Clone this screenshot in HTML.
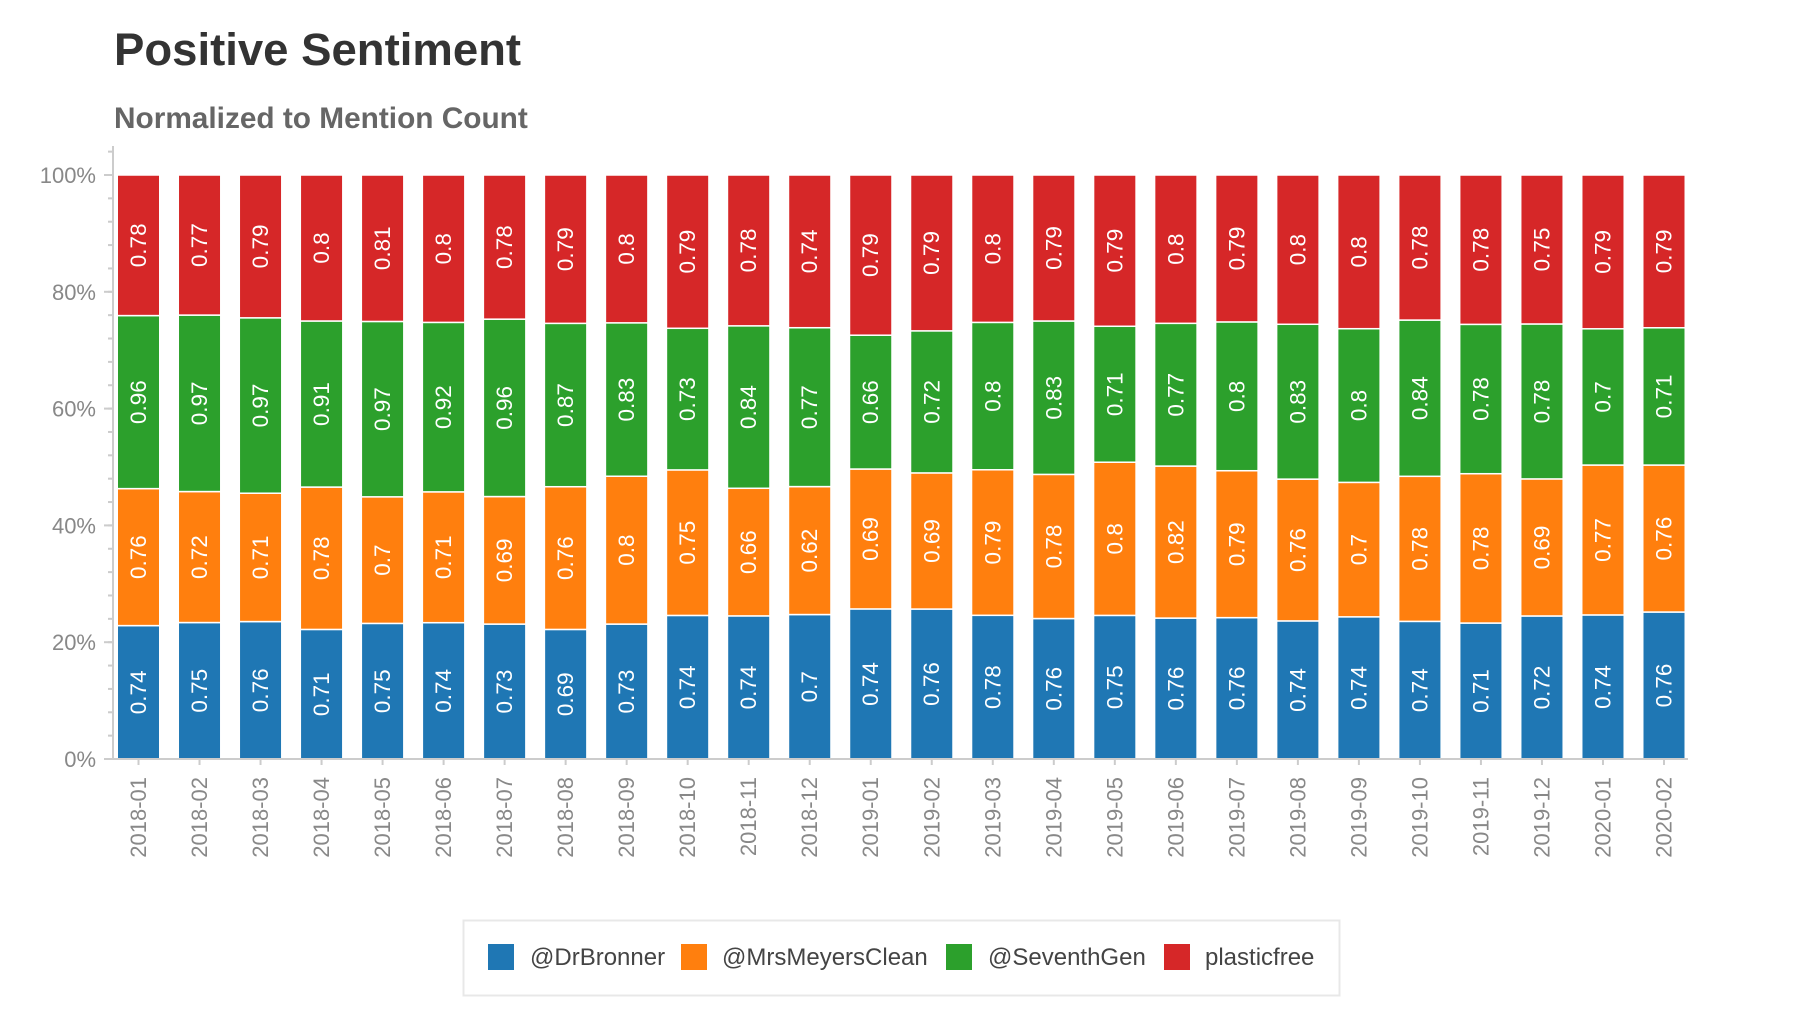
<!DOCTYPE html>
<html><head><meta charset="utf-8"><style>
html,body{margin:0;padding:0;background:#fff;}
body{width:1800px;height:1012px;overflow:hidden;font-family:"Liberation Sans",Arial,sans-serif;}
</style></head><body>
<svg id="chart" width="1800" height="1012" xmlns="http://www.w3.org/2000/svg">
<text x="114" y="65" font-size="45.5" font-weight="bold" fill="#333">Positive Sentiment</text>
<text x="114" y="128" font-size="29.8" font-weight="bold" fill="#666">Normalized to Mention Count</text>
<g id="plot"></g>
<g id="legend">
<rect x="463.5" y="920.5" width="876" height="75" fill="#fff" stroke="#e8e8e8" stroke-width="2"/>
<rect x="488" y="944" width="26" height="26" fill="#1f77b4"/>
<text x="530" y="965" font-size="24" fill="#444">@DrBronner</text>
<rect x="681" y="944" width="26" height="26" fill="#ff7f0e"/>
<text x="722" y="965" font-size="24" fill="#444">@MrsMeyersClean</text>
<rect x="946" y="944" width="26" height="26" fill="#2ca02c"/>
<text x="988" y="965" font-size="24" fill="#444">@SeventhGen</text>
<rect x="1164" y="944" width="26" height="26" fill="#d62728"/>
<text x="1205" y="965" font-size="24" fill="#444">plasticfree</text>
</g>
</svg>
<script>
const categories = ["2018-01","2018-02","2018-03","2018-04","2018-05","2018-06","2018-07","2018-08","2018-09","2018-10","2018-11","2018-12","2019-01","2019-02","2019-03","2019-04","2019-05","2019-06","2019-07","2019-08","2019-09","2019-10","2019-11","2019-12","2020-01","2020-02"];
const drBronner = [0.74,0.75,0.76,0.71,0.75,0.74,0.73,0.69,0.73,0.74,0.74,0.7,0.74,0.76,0.78,0.76,0.75,0.76,0.76,0.74,0.74,0.74,0.71,0.72,0.74,0.76];
const mrsMeyers = [0.76,0.72,0.71,0.78,0.7,0.71,0.69,0.76,0.8,0.75,0.66,0.62,0.69,0.69,0.79,0.78,0.8,0.82,0.79,0.76,0.7,0.78,0.78,0.69,0.77,0.76];
const seventhGen = [0.96,0.97,0.97,0.91,0.97,0.92,0.96,0.87,0.83,0.73,0.84,0.77,0.66,0.72,0.8,0.83,0.71,0.77,0.8,0.83,0.8,0.84,0.78,0.78,0.7,0.71];
const plasticfree = [0.78,0.77,0.79,0.8,0.81,0.8,0.78,0.79,0.8,0.79,0.78,0.74,0.79,0.79,0.8,0.79,0.79,0.8,0.79,0.8,0.8,0.78,0.78,0.75,0.79,0.79];
const yTicks = [0,20,40,60,80,100];
const seriesNames = ["drbronner","mrsmeyers","seventhgen","plasticfree"];

const NS="http://www.w3.org/2000/svg";
const plot=document.getElementById('plot');
const X0=113, X1=1688, Y0=759, Y100=175;
const firstC=138.5, lastC=1664;
const pitch=(lastC-firstC)/(categories.length-1);
const barW=42.5;
function xc(i){return firstC+pitch*i;}
function y(p){return Y0-(Y0-Y100)*p/100;}
function mk(tag,attrs){const e=document.createElementNS(NS,tag);for(const k in attrs)e.setAttribute(k,attrs[k]);plot.appendChild(e);return e;}

for(let p=0;p<=104;p+=4){
  const t=mk('line',{x1:108,x2:113,y1:y(p),y2:y(p),stroke:'#ccc','stroke-width':2});
  
  
}
yTicks.forEach(v=>{
  const t=mk('line',{x1:104,x2:113,y1:y(v),y2:y(v),stroke:'#ccc','stroke-width':2});
  
  
  const l=mk('text',{x:96,y:y(v)+8,'text-anchor':'end','font-size':22,fill:'#888'});
  l.textContent=v+'%';
  
  
});
const ya=mk('line',{x1:X0,x2:X0,y1:146,y2:Y0+1,stroke:'#ccc','stroke-width':2});



const series=[drBronner,mrsMeyers,seventhGen,plasticfree];
const colors=['#1f77b4','#ff7f0e','#2ca02c','#d62728'];
categories.forEach((c,i)=>{
  const sum=series.reduce((a,s)=>a+s[i],0);
  let cum=0;
  series.forEach((s,k)=>{
    const p0=cum/sum*100, p1=(cum+s[i])/sum*100;
    cum+=s[i];
    const r=mk('rect',{x:xc(i)-barW/2,y:y(p1),width:barW,height:y(p0)-y(p1),fill:colors[k],stroke:'#fff','stroke-width':1.5});
    
    
    const cy=(y(p0)+y(p1))/2, cx=xc(i);
    const t=mk('text',{x:cx,y:cy,'text-anchor':'middle','font-size':22.5,fill:'#fff','dominant-baseline':'central',transform:`rotate(-90 ${cx} ${cy})`});
    t.textContent=String(s[i]);
    
    
  });
  const tk=mk('line',{x1:xc(i),x2:xc(i),y1:Y0,y2:Y0+6,stroke:'#ccc','stroke-width':2});
  
  
  const lx=xc(i), ly=777;
  const l=mk('text',{x:lx,y:ly,'text-anchor':'end','font-size':22,fill:'#888','dominant-baseline':'central',transform:`rotate(-90 ${lx} ${ly})`});
  l.textContent=c;
  
  
});
const xa=mk('line',{x1:X0-2,x2:X1,y1:Y0,y2:Y0,stroke:'#ccc','stroke-width':2});


</script>
</body></html>
